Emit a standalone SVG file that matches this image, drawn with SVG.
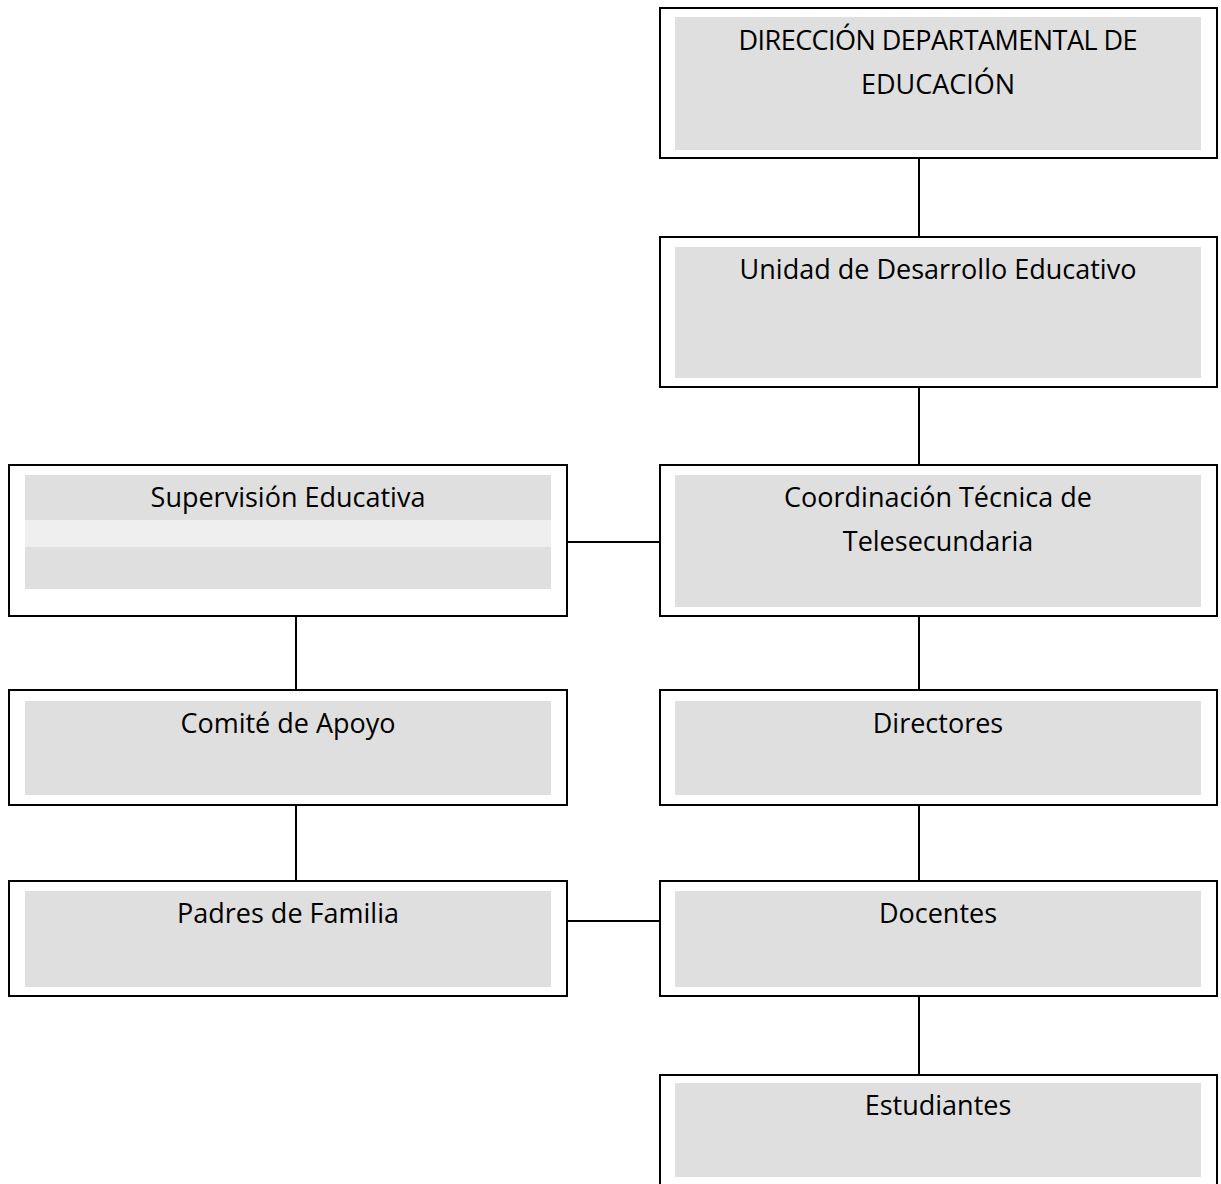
<svg xmlns="http://www.w3.org/2000/svg" width="1221" height="1184" viewBox="0 0 1221 1184">
<style>
.box{fill:#ffffff;stroke:#000000;stroke-width:2}
.in{fill:#dfdfdf}
.band{fill:#efefef}
.t{font-family:"Open Sans","Liberation Sans",sans-serif;font-size:27px;fill:#000000;text-anchor:middle}
.c{stroke:#000000;stroke-width:2;fill:none}
</style>
<rect width="1221" height="1184" fill="#ffffff"/>
<g id="connectors">
<line class="c" x1="919" y1="158" x2="919" y2="237"/>
<line class="c" x1="919" y1="387" x2="919" y2="465"/>
<line class="c" x1="567" y1="542" x2="660" y2="542"/>
<line class="c" x1="919" y1="616" x2="919" y2="690"/>
<line class="c" x1="296" y1="616" x2="296" y2="690"/>
<line class="c" x1="296" y1="805" x2="296" y2="881"/>
<line class="c" x1="919" y1="805" x2="919" y2="881"/>
<line class="c" x1="567" y1="921" x2="660" y2="921"/>
<line class="c" x1="919" y1="996" x2="919" y2="1075"/>
</g>
<g id="n-direccion">
<rect class="box" x="660" y="8" width="557" height="150"/>
<rect class="in" x="675" y="17" width="526" height="133"/>
<text class="t" x="938" y="50" textLength="399">DIRECCIÓN DEPARTAMENTAL DE</text>
<text class="t" x="938" y="94">EDUCACIÓN</text>
</g>
<g id="n-unidad">
<rect class="box" x="660" y="237" width="557" height="150"/>
<rect class="in" x="675" y="247" width="526" height="131"/>
<text class="t" x="938" y="279">Unidad de Desarrollo Educativo</text>
</g>
<g id="n-coordinacion">
<rect class="box" x="660" y="465" width="557" height="151"/>
<rect class="in" x="675" y="475" width="526" height="132"/>
<text class="t" x="938" y="507">Coordinación Técnica de</text>
<text class="t" x="938" y="551">Telesecundaria</text>
</g>
<g id="n-supervision">
<rect class="box" x="9" y="465" width="558" height="151"/>
<rect class="in" x="25" y="475" width="526" height="114"/>
<rect class="band" x="25" y="520" width="526" height="27"/>
<text class="t" x="288" y="507">Supervisión Educativa</text>
</g>
<g id="n-comite">
<rect class="box" x="9" y="690" width="558" height="115"/>
<rect class="in" x="25" y="701" width="526" height="94"/>
<text class="t" x="288" y="733">Comité de Apoyo</text>
</g>
<g id="n-directores">
<rect class="box" x="660" y="690" width="557" height="115"/>
<rect class="in" x="675" y="701" width="526" height="94"/>
<text class="t" x="938" y="733">Directores</text>
</g>
<g id="n-padres">
<rect class="box" x="9" y="881" width="558" height="115"/>
<rect class="in" x="25" y="891" width="526" height="96"/>
<text class="t" x="288" y="923">Padres de Familia</text>
</g>
<g id="n-docentes">
<rect class="box" x="660" y="881" width="557" height="115"/>
<rect class="in" x="675" y="891" width="526" height="96"/>
<text class="t" x="938" y="923">Docentes</text>
</g>
<g id="n-estudiantes">
<rect class="box" x="660" y="1075" width="557" height="120"/>
<rect class="in" x="675" y="1083" width="526" height="94"/>
<text class="t" x="938" y="1115">Estudiantes</text>
</g>
</svg>
